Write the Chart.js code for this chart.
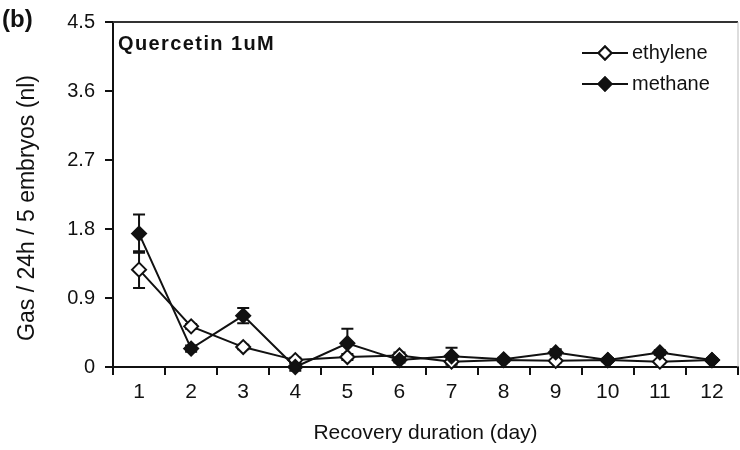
<!DOCTYPE html>
<html>
<head>
<meta charset="utf-8">
<script src="https://cdn.jsdelivr.net/npm/chart.js@4.4.1/dist/chart.umd.min.js"></script>
<style>
  html, body { margin: 0; padding: 0; background: #fff; }
  #wrap { width: 740px; height: 450px; }
</style>
</head>
<body>
<div id="wrap"><canvas id="gas-chart" width="740" height="450"></canvas></div>
<script>
const FONT = "'Liberation Sans', Arial, Helvetica, sans-serif";
const INK = "#111";

// recovery days on the x axis
const days = ["1", "2", "3", "4", "5", "6", "7", "8", "9", "10", "11", "12"];
const yTicks = [0, 0.9, 1.8, 2.7, 3.6, 4.5];

// gas released per 24h by 5 embryos (nl)
const ethylene = [1.27, 0.53, 0.26, 0.09, 0.13, 0.15, 0.07, 0.09, 0.08, 0.09, 0.07, 0.09];
const methane = [1.74, 0.24, 0.67, 0.0, 0.31, 0.09, 0.14, 0.1, 0.19, 0.09, 0.19, 0.09];
const ethyleneErr = [0.24, 0.03, 0.03, 0.03, 0.04, 0.04, 0.02, 0.02, 0.02, 0.02, 0.02, 0.02];
const methaneErr = [0.25, 0.04, 0.1, 0.05, 0.19, 0.03, 0.11, 0.02, 0.04, 0.02, 0.03, 0.02];

const panelLabel = "(b)";
const treatment = "Quercetin 1uM";
const yTitle = "Gas / 24h / 5 embryos (nl)";

// whiskers + caps, drawn under the markers
const errorBars = {
  id: "errorBars",
  beforeDatasetsDraw(chart) {
    const { ctx } = chart;
    const y = chart.scales.y;
    chart.data.datasets.forEach((ds, i) => {
      const meta = chart.getDatasetMeta(i);
      ctx.save();
      ctx.strokeStyle = INK;
      ctx.lineWidth = 2;
      meta.data.forEach((pt, j) => {
        const err = ds.errors[j];
        if (!err) return;
        const top = y.getPixelForValue(ds.data[j] + err);
        const bot = y.getPixelForValue(ds.data[j] - err);
        ctx.beginPath();
        ctx.moveTo(pt.x, top);
        ctx.lineTo(pt.x, bot);
        ctx.moveTo(pt.x - 6, top);
        ctx.lineTo(pt.x + 6, top);
        ctx.moveTo(pt.x - 6, bot);
        ctx.lineTo(pt.x + 6, bot);
        ctx.stroke();
      });
      ctx.restore();
    });
  },
};

// frame, panel letter, y title, treatment note and the line+marker legend
const decorations = {
  id: "decorations",
  afterDraw(chart) {
    const { ctx, chartArea: a } = chart;
    ctx.save();
    ctx.strokeStyle = "#333";
    ctx.lineWidth = 2;
    ctx.beginPath();
    ctx.moveTo(a.left, a.top);
    ctx.lineTo(a.right, a.top);
    ctx.stroke();
    ctx.strokeStyle = "#bbb";
    ctx.lineWidth = 1;
    ctx.beginPath();
    ctx.moveTo(a.right, a.top);
    ctx.lineTo(a.right, a.bottom);
    ctx.stroke();

    ctx.fillStyle = INK;
    ctx.textBaseline = "middle";
    ctx.font = `bold 24px ${FONT}`;
    ctx.fillText(panelLabel, 2, 20);

    ctx.save();
    ctx.translate(28, 208);
    ctx.rotate(-Math.PI / 2);
    ctx.textAlign = "center";
    ctx.font = `23px ${FONT}`;
    ctx.fillText(yTitle, 0, 0);
    ctx.restore();

    ctx.font = `bold 20px ${FONT}`;
    ctx.letterSpacing = "1.4px";
    ctx.fillText(treatment, a.left + 5, 44);
    ctx.letterSpacing = "0px";

    ctx.font = `20px ${FONT}`;
    const rows = [53, 84];
    chart.data.datasets.forEach((ds, i) => {
      const yy = rows[i];
      ctx.strokeStyle = INK;
      ctx.lineWidth = 2;
      ctx.beginPath();
      ctx.moveTo(582, yy);
      ctx.lineTo(628, yy);
      ctx.stroke();
      Chart.helpers.drawPoint(ctx, { pointStyle: "rectRot", radius: 6.5, borderWidth: 2 }, 605, yy);
      ctx.fillStyle = ds.pointBackgroundColor;
      ctx.fill();
      ctx.stroke();
      ctx.fillStyle = INK;
      ctx.fillText(ds.label, 632, yy);
    });
    ctx.restore();
  },
};

const seriesStyle = {
  borderColor: INK,
  borderWidth: 2,
  pointStyle: "rectRot",
  pointRadius: 7,
  pointBorderWidth: 2,
  pointBorderColor: INK,
  tension: 0,
  clip: false,
};

new Chart(document.getElementById("gas-chart"), {
  type: "line",
  data: {
    labels: days,
    datasets: [
      { ...seriesStyle, label: "ethylene", data: ethylene, errors: ethyleneErr, pointBackgroundColor: "#fff", order: 2 },
      { ...seriesStyle, label: "methane", data: methane, errors: methaneErr, pointBackgroundColor: INK, order: 1 },
    ],
  },
  options: {
    responsive: false,
    animation: false,
    events: [],
    layout: { padding: { left: 0, right: 2, top: 20, bottom: 0 }, autoPadding: false },
    plugins: { legend: { display: false }, tooltip: { enabled: false } },
    scales: {
      x: {
        offset: true,
        grid: { offset: true, drawOnChartArea: false, drawTicks: true, tickLength: 8, color: INK, lineWidth: 2 },
        border: { color: INK, width: 2 },
        ticks: { color: INK, font: { family: FONT, size: 21 }, padding: 5, maxRotation: 0 },
        title: { display: true, text: "Recovery duration (day)", color: INK, font: { family: FONT, size: 21 }, padding: { top: 0, bottom: 4 } },
        afterFit: (scale) => { scale.height = 83; },
      },
      y: {
        min: 0,
        max: 4.5,
        afterBuildTicks: (scale) => { scale.ticks = yTicks.map((v) => ({ value: v })); },
        grid: { drawOnChartArea: false, drawTicks: true, tickLength: 8, color: INK, lineWidth: 2 },
        border: { color: INK, width: 2 },
        ticks: { color: INK, font: { family: FONT, size: 20 }, padding: 10, callback: (v) => String(Number(v.toFixed(1))) },
        afterFit: (scale) => { scale.width = 113; },
      },
    },
  },
  plugins: [errorBars, decorations],
});
</script>
</body>
</html>
